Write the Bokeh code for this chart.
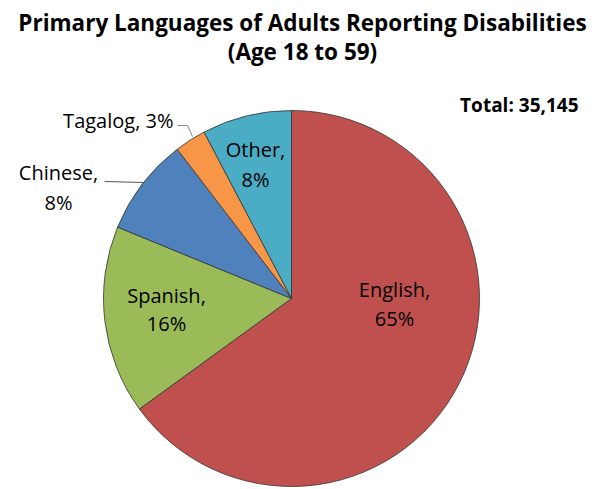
import math
from bokeh.plotting import figure
from bokeh.models import Range1d, Label
from bokeh.embed import file_html
from bokeh.resources import INLINE

# ---- data ----
languages = ["English", "Spanish", "Chinese", "Tagalog", "Other"]
shares = [65.0, 16.2, 8.4, 2.7, 7.7]
colors = ["#C0504D", "#9BBB59", "#4F81BD", "#F79646", "#4BACC6"]
title_lines = ["Primary Languages of Adults Reporting Disabilities", "(Age 18 to 59)"]
total_text = "Total: 35,145"

W, H = 600, 489
FONT = "Open Sans"

def X(px):
    return px

def Y(py):
    return H - py

p = figure(width=W, height=H, output_backend="svg", toolbar_location=None,
           x_range=Range1d(0, W), y_range=Range1d(0, H), min_border=0)
p.axis.visible = False
p.grid.visible = False
p.outline_line_color = None
p.background_fill_color = "white"
p.border_fill_color = "white"

# ---- pie ----
cx, cy, r = X(291), Y(298), 188
tot = sum(shares)
starts, ends = [], []
cum = 0.0
for s in shares:
    a0 = math.pi / 2 - 2 * math.pi * cum / tot
    cum += s
    a1 = math.pi / 2 - 2 * math.pi * cum / tot
    starts.append(a0)
    ends.append(a1)

p.wedge(x=[cx] * len(shares), y=[cy] * len(shares), radius=r, radius_units="data",
        start_angle=starts, end_angle=ends, direction="clock",
        fill_color=colors, line_color="#333333", line_width=0.8)

# ---- labels ----
pct = [f"{round(s / tot * 100)}%" for s in shares]
LS = "20px"
layout = {
    "English": (394, 289, 318),
    "Spanish": (166, 295, 323),
    "Chinese": (58, 172, 202),
    "Other": (255, 149, 179),
}
for name, pc in zip(languages, pct):
    if name in layout:
        lx, y1, y2 = layout[name]
        p.add_layout(Label(x=X(lx), y=Y(y1), text=f"{name},", text_align="center",
                           text_baseline="middle", text_font=FONT, text_font_size=LS,
                           text_color="black"))
        p.add_layout(Label(x=X(lx), y=Y(y2), text=pc, text_align="center",
                           text_baseline="middle", text_font=FONT, text_font_size=LS,
                           text_color="black"))
    else:
        p.add_layout(Label(x=X(173), y=Y(120), text=f"{name}, {pc}", text_align="right",
                           text_baseline="middle", text_font=FONT, text_font_size=LS,
                           text_color="black"))

# leader lines
p.line(x=[X(177), X(187), X(192)], y=[Y(125), Y(125), Y(136)], line_color="#888888", line_width=1)
p.line(x=[X(104), X(143)], y=[Y(181), Y(182)], line_color="#555555", line_width=1)

# ---- title & total ----
p.add_layout(Label(x=X(302), y=Y(22), text=title_lines[0], text_align="center",
                   text_baseline="middle", text_font=FONT, text_font_size="22.5px",
                   text_font_style="bold", text_color="black"))
p.add_layout(Label(x=X(302), y=Y(51), text=title_lines[1], text_align="center",
                   text_baseline="middle", text_font=FONT, text_font_size="22.5px",
                   text_font_style="bold", text_color="black"))
p.add_layout(Label(x=X(578), y=Y(104), text=total_text, text_align="right",
                   text_baseline="middle", text_font=FONT, text_font_size="19px",
                   text_font_style="bold", text_color="black"))

open("out.html", "w").write(file_html(p, INLINE))
